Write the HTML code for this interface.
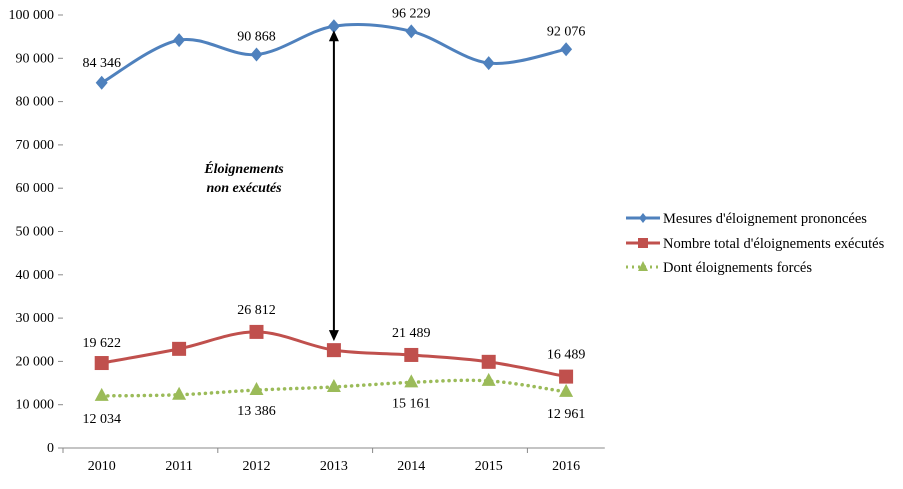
<!DOCTYPE html>
<html><head><meta charset="utf-8"><style>
body{margin:0;background:#fff;}
svg text{font-family:"Liberation Serif",serif;font-size:14px;fill:#000;}
</style></head><body>
<svg width="903" height="484" id="c"></svg>
<script>
const years=["2010","2011","2012","2013","2014","2015","2016"];
const mesures=[84346,94200,90868,97400,96229,88900,92076];
const executes=[19622,22900,26812,22600,21489,19900,16489];
const forces=[12034,12300,13386,14100,15161,15500,12961];
const yTicks=[0,10000,20000,30000,40000,50000,60000,70000,80000,90000,100000];
const mesLabels=[[0,"84 346",-16],[2,"90 868",-14],[4,"96 229",-14],[6,"92 076",-14]];
const exeLabels=[[0,"19 622",-16],[2,"26 812",-18],[4,"21 489",-18],[6,"16 489",-18]];
const forLabels=[[0,"12 034",27],[2,"13 386",25],[4,"15 161",25],[6,"12 961",26]];
const NS="http://www.w3.org/2000/svg",svg=document.getElementById('c');
const x0=63,bw=77.4,yb=448,yt=15;
const X=i=>x0+bw*(i+0.5), Y=v=>yb-(v/100000)*(yb-yt);
function mk(t,a,p){const e=document.createElementNS(NS,t);for(const k in a)e.setAttribute(k,a[k]);(p||svg).appendChild(e);return e;}
const ax=mk('line',{x1:x0,y1:yb,x2:x0+bw*7,y2:yb,stroke:'#888'});


yTicks.forEach(v=>{
 const t=mk('line',{x1:x0-5,y1:Y(v),x2:x0,y2:Y(v),stroke:'#888'});
 
 
 const l=mk('text',{x:x0-9,y:Y(v)+4,'text-anchor':'end'});l.textContent=v===0?"0":(v/1000).toFixed(0)+" 000";
 
 
});
for(let i=0;i<=7;i+=2){const t=mk('line',{x1:x0+bw*i,y1:yb,x2:x0+bw*i,y2:yb+5,stroke:'#888'});
 
 }
years.forEach((y,i)=>{const l=mk('text',{x:X(i),y:yb+22,'text-anchor':'middle'});l.textContent=y;
 
 });
function smooth(vals){const p=vals.map((v,i)=>[X(i),Y(v)]);let d=`M${p[0][0]},${p[0][1]}`;
 for(let i=0;i<p.length-1;i++){const a=p[i-1]||p[i],b=p[i],c=p[i+1],e=p[i+2]||c;
 d+=` C${b[0]+(c[0]-a[0])/6},${b[1]+(c[1]-a[1])/6} ${c[0]-(e[0]-b[0])/6},${c[1]-(e[1]-b[1])/6} ${c[0]},${c[1]}`;}return d;}
function series(vals,color,name,marker,dash){
 const g=mk('g',{});
 const a={d:smooth(vals),fill:'none',stroke:color,'stroke-width':3};if(dash){a['stroke-dasharray']='0.1 6';a['stroke-linecap']='round';a['stroke-width']=3.5;}
 mk('path',a,g);
 vals.forEach((v,i)=>{const x=X(i),y=Y(v);let m;
  if(marker==='d')m=mk('polygon',{points:`${x},${y-7} ${x+6},${y} ${x},${y+7} ${x-6},${y}`,fill:color},g);
  else if(marker==='s')m=mk('rect',{x:x-7,y:y-7,width:14,height:14,fill:color},g);
  else m=mk('polygon',{points:`${x},${y-8} ${x+7},${y+5} ${x-7},${y+5}`,fill:color},g);
  
  });
}
series(forces,'#9bbb59','series-forces','t',true);
series(executes,'#c0504d','series-executes','s');
series(mesures,'#4f81bd','series-mesures','d');
function labels(arr,vals){arr.forEach(([i,t,dy])=>{const l=mk('text',{x:X(i),y:Y(vals[i])+dy,'text-anchor':'middle'});l.textContent=t;
 
 });}
labels(mesLabels,mesures);labels(exeLabels,executes);labels(forLabels,forces);
const ag=mk('g',{});
const ax3=X(3),ya=Y(mesures[3])+4,yb2=Y(executes[3])-9;
mk('line',{x1:ax3,y1:ya+8,x2:ax3,y2:yb2-8,stroke:'#000','stroke-width':2},ag);
mk('polygon',{points:`${ax3},${ya} ${ax3-5},${ya+11} ${ax3+5},${ya+11}`,fill:'#000'},ag);
mk('polygon',{points:`${ax3},${yb2} ${ax3-5},${yb2-11} ${ax3+5},${yb2-11}`,fill:'#000'},ag);
[["Éloignements",173],["non exécutés",192]].forEach(([t,y])=>{const l=mk('text',{x:244,y:y,'text-anchor':'middle','font-style':'italic','font-weight':'bold'});l.textContent=t;
 
 });
[["Mesures d'éloignement prononcées",'#4f81bd','d',218],["Nombre total d'éloignements exécutés",'#c0504d','s',243],["Dont éloignements forcés",'#9bbb59','t',267]].forEach(([t,c,m,y])=>{
 const g=mk('g',{});
 mk('line',{x1:626,y1:y,x2:660,y2:y,stroke:c,'stroke-width':3,'stroke-dasharray':m==='t'?'2 4':''},g);
 const x=643;
 if(m==='d')mk('polygon',{points:`${x},${y-5} ${x+4},${y} ${x},${y+5} ${x-4},${y}`,fill:c},g);
 else if(m==='s')mk('rect',{x:x-5,y:y-5,width:10,height:10,fill:c},g);
 else mk('polygon',{points:`${x},${y-6} ${x+5},${y+4} ${x-5},${y+4}`,fill:c},g);
 const l=mk('text',{x:663,y:y+5,style:'font-size:14.5px'},g);l.textContent=t;
});
</script>
</body></html>
